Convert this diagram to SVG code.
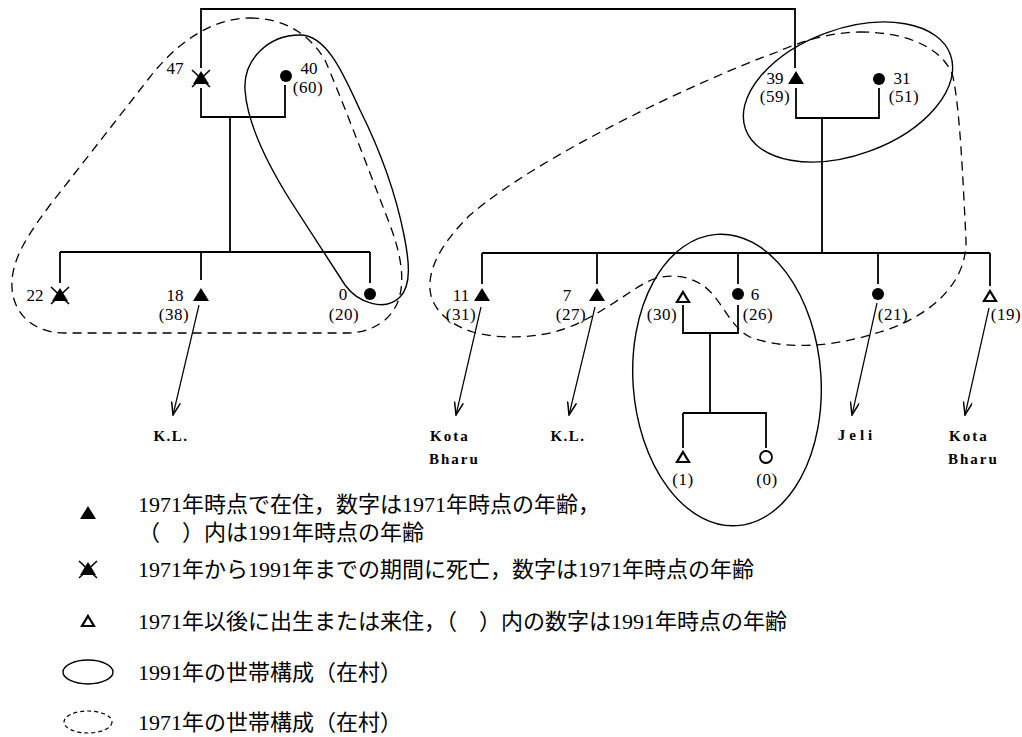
<svg xmlns="http://www.w3.org/2000/svg" width="1022" height="737" viewBox="0 0 1022 737">
<style>
.ln{stroke:#000;stroke-width:1.8;fill:none}
.ar{stroke:#000;stroke-width:1.2;fill:none;marker-end:url(#ah)}
.sol{stroke:#000;stroke-width:1.4;fill:none}
.dsh{stroke:#000;stroke-width:1.3;fill:none;stroke-dasharray:9 6}
.t{font-family:"Liberation Serif","Noto Sans CJK JP",serif;font-size:17px;fill:#000}
.c{text-anchor:middle}
.p{letter-spacing:0.5px}
.pl{font-family:"Liberation Serif",serif;font-size:15px;font-weight:bold;fill:#000;letter-spacing:2px}
.j{font-family:"Liberation Serif","Noto Sans CJK JP",sans-serif;font-size:22px;fill:#000}
</style>
<defs>
<path id="tri" d="M0,-7 L8,6 L-8,6 Z" fill="#000"/>
<path id="otri" d="M0,-5 L6,5 L-6,5 Z" fill="#fff" stroke="#000" stroke-width="2.2"/>
<circle id="dot" r="6" fill="#000"/>
<circle id="odot" r="6" fill="#fff" stroke="#000" stroke-width="1.8"/>
<g id="dead"><path d="M0,-7 L8,6 L-8,6 Z" fill="#000"/><path d="M-9,-8 L9,9 M9,-8 L-9,9" stroke="#000" stroke-width="1.6"/></g>
<marker id="ah" markerWidth="14" markerHeight="10" refX="13" refY="5" orient="auto" markerUnits="userSpaceOnUse"><path d="M0,0.5 L13,5 L0,9.5" fill="none" stroke="#000" stroke-width="1.5"/></marker>
</defs>
<rect width="1022" height="737" fill="#fff"/>

<g id="households">
<path class="dsh" d="M250,18 C285,18 310,35 325,60 C340,95 365,160 390,225 C405,265 408,300 385,320 C372,330 360,333 345,333 L65,333 C30,333 10,310 12,280 C14,255 30,232 50,205 L150,77 C175,45 210,18 250,18 Z"/>
<path class="sol" d="M300,35 C268,35 243,60 245,90 C247,120 265,160 290,200 L345,285 C358,303 385,312 400,297 C412,285 409,260 404,235 C395,190 380,150 360,110 C345,78 328,35 300,35 Z"/>
<ellipse class="sol" cx="848" cy="92" rx="109" ry="63" transform="rotate(-20 848 92)"/>
<path class="dsh" d="M860,32 C910,32 945,50 953,77 C960,110 963,180 966,240 C967,290 920,320 880,332 C840,345 790,352 750,337 C730,327 722,300 705,287 C690,275 665,272 645,283 C625,294 600,315 567,328 C540,338 500,340 473,332 C450,325 432,310 430,290 C428,265 445,240 470,215 C540,155 700,80 777,52 C800,42 830,32 860,32 Z"/>
<ellipse class="sol" cx="727" cy="380" rx="94" ry="146" transform="rotate(-4 727 380)"/>
</g>

<g id="connectors">
<path class="ln" d="M201,68 V9 H795 V68"/>
<path class="ln" d="M201,88 V117 H285 V85 M230,117 V252 M60,252 H370 M60,252 V283 M201,252 V280 M370,252 V283"/>
<path class="ln" d="M796,88 V118 H879 V88 M822,118 V253 M482,253 H990 M482,253 V284 M597,253 V284 M738,253 V284 M878,253 V284 M990,253 V286"/>
<path class="ln" d="M683,305 V333 H738 V305 M710,333 V413 M683,413 H766 V448 M683,413 V448"/>
<path class="ar" d="M199,305 L173,415"/>
<path class="ar" d="M481,307 L456,415"/>
<path class="ar" d="M595,307 L569,415"/>
<path class="ar" d="M877,303 L852,415"/>
<path class="ar" d="M989,308 L965,415"/>
</g>

<g id="n47"><use href="#dead" x="201" y="78"/><text class="t c" x="175" y="74">47</text></g>
<g id="n40"><use href="#dot" x="286" y="76"/><text class="t c" x="309" y="74">40</text><text class="t c p" x="308" y="93">(60)</text></g>
<g id="n22"><use href="#dead" x="60" y="295"/><text class="t c" x="35" y="301">22</text></g>
<g id="n18"><use href="#tri" x="201" y="295"/><text class="t c" x="175" y="301">18</text><text class="t c p" x="174" y="320">(38)</text></g>
<g id="n0"><use href="#dot" x="370" y="294"/><text class="t c" x="343" y="300">0</text><text class="t c p" x="344" y="320">(20)</text></g>
<g id="dest-left"><text class="pl c" x="171" y="441" style="letter-spacing:1.5px">K.L.</text></g>

<g id="n39"><use href="#tri" x="796" y="78"/><text class="t c" x="775" y="84">39</text><text class="t c p" x="775" y="102">(59)</text></g>
<g id="n31"><use href="#dot" x="879" y="79"/><text class="t c" x="902" y="84">31</text><text class="t c p" x="904" y="102">(51)</text></g>

<g id="n11"><use href="#tri" x="482" y="295"/><text class="t c" x="461" y="301">11</text><text class="t c p" x="461" y="320">(31)</text></g>
<g id="n7"><use href="#tri" x="597" y="295"/><text class="t c" x="567" y="301">7</text><text class="t c p" x="571" y="320">(27)</text></g>
<g id="n30"><use href="#otri" x="683" y="297"/><text class="t c p" x="662" y="320">(30)</text></g>
<g id="n6"><use href="#dot" x="738" y="294"/><text class="t c" x="755" y="300">6</text><text class="t c p" x="758" y="320">(26)</text></g>
<g id="n21"><use href="#dot" x="878" y="294"/><text class="t c p" x="893" y="320">(21)</text></g>
<g id="n19"><use href="#otri" x="990" y="296"/><text class="t c p" x="1006" y="320">(19)</text></g>
<g id="n1"><use href="#otri" x="683" y="457"/><text class="t c p" x="683" y="485">(1)</text></g>
<g id="n0b"><use href="#odot" x="766" y="457"/><text class="t c p" x="767" y="485">(0)</text></g>

<g id="dest-right">
<text class="pl" x="430" y="441">Kota</text><text class="pl" x="429" y="464">Bharu</text>
<text class="pl c" x="568" y="441" style="letter-spacing:1.5px">K.L.</text>
<text class="pl c" x="857" y="440" style="letter-spacing:4px">Jeli</text>
<text class="pl" x="949" y="441">Kota</text><text class="pl" x="948" y="464">Bharu</text>
</g>

<g id="legend">
<use href="#tri" x="88" y="513"/>
<text class="j" x="138" y="512">1971年時点で在住，数字は1971年時点の年齢，</text>
<text class="j" x="138" y="540">（　）内は1991年時点の年齢</text>
<use href="#dead" x="88" y="569"/>
<text class="j" x="138" y="577">1971年から1991年までの期間に死亡，数字は1971年時点の年齢</text>
<use href="#otri" x="88" y="621"/>
<text class="j" x="138" y="629">1971年以後に出生または来住，（　）内の数字は1991年時点の年齢</text>
<ellipse class="sol" cx="88" cy="672" rx="25" ry="12"/>
<text class="j" x="138" y="680">1991年の世帯構成（在村）</text>
<ellipse cx="88" cy="722" rx="24" ry="11" fill="none" stroke="#000" stroke-width="1.2" stroke-dasharray="4 3"/>
<text class="j" x="138" y="730">1971年の世帯構成（在村）</text>
</g>
</svg>
